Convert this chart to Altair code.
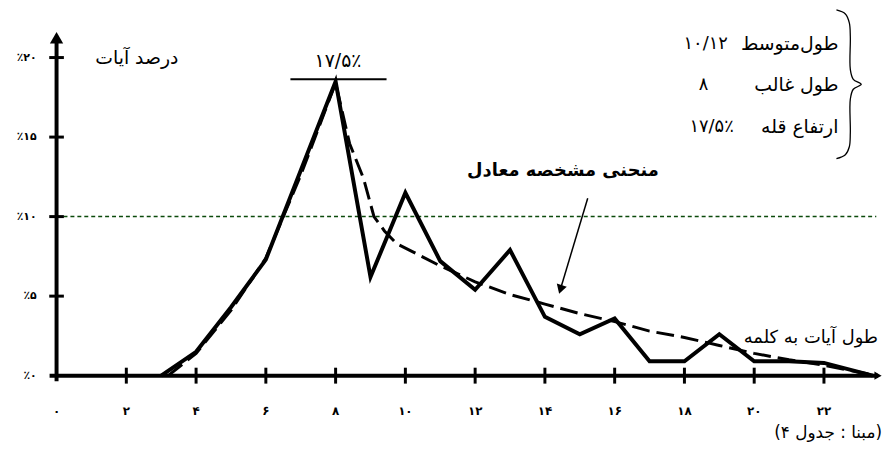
import altair as alt
import pandas as pd

# ---------------- data ----------------
x_ticks = [0, 2, 4, 6, 8, 10, 12, 14, 16, 18, 20, 22]
x_tick_labels = ["۰", "۲", "۴", "۶", "۸", "۱۰", "۱۲", "۱۴", "۱۶", "۱۸", "۲۰", "۲۲"]
y_ticks = [0, 5, 10, 15, 20]
y_tick_labels = ["٪۰", "٪۵", "٪۱۰", "٪۱۵", "٪۲۰"]

# observed distribution (solid line)
solid_x = [3, 4, 5, 6, 7, 8, 9, 10, 11, 12, 13, 14, 15, 16, 17, 18, 19, 20, 21, 22, 23.4]
solid_y = [0, 1.5, 4.3, 7.3, 12.9, 18.5, 6.2, 11.5, 7.2, 5.4, 7.9, 3.7, 2.6, 3.6,
           0.9, 0.9, 2.6, 0.9, 0.9, 0.8, 0]

# equivalent characteristic curve (dashed line)
curve_x = [3.2, 4, 5, 6, 7, 8, 8.4, 8.8, 9.1, 9.4, 9.75, 10.2, 11, 12, 13, 14, 15,
           16, 17, 18, 19, 20, 21, 22, 23.4]
curve_y = [0, 1.4, 4.1, 7.4, 12.6, 18.4, 14.6, 12.4, 10.0, 9.1, 8.3, 7.8, 6.9, 5.9,
           5.1, 4.5, 3.9, 3.4, 2.8, 2.4, 1.9, 1.4, 1.0, 0.65, 0.05]

ref_level = 10
peak_text = "۱۷/۵٪"
y_title = "درصد آیات"
x_title = "طول آیات به کلمه"
curve_title = "منحنی مشخصه معادل"
source_text = "(مبنا : جدول ۴)"
legend_labels = ["طول\u200cمتوسط", "طول غالب", "ارتفاع قله"]
legend_values = ["۱۰/۱۲", "۸", "۱۷/۵٪"]

# ---------------- layout ----------------
W, H = 885, 440
KX, KY = 35.2, 16.05          # px per unit
X0_PX, Y0_PX = 49, 369        # origin inside the view
XMIN = -X0_PX / KX
XMAX = XMIN + W / KX
YMAX = Y0_PX / KY
YMIN = YMAX - H / KY

FONT = "DejaVu Sans"
xs = alt.Scale(domain=[XMIN, XMAX], nice=False, zero=False)
ys = alt.Scale(domain=[YMIN, YMAX], nice=False, zero=False)
X = alt.X("x:Q", scale=xs, axis=None)
Y = alt.Y("y:Q", scale=ys, axis=None)


def px2x(p):
    return (p - 57) / KX


def py2y(p):
    return (377 - p) / KY


def text_layer(x, y, txt, **kw):
    df = pd.DataFrame({"x": x, "y": y, "t": txt})
    base = dict(font=FONT, baseline="middle", color="black")
    base.update(kw)
    return alt.Chart(df).mark_text(**base).encode(x=X, y=Y, text="t:N")


# axes
axes_df = pd.DataFrame({"x": [-0.2, 0], "y": [0, -0.35], "x2": [23.55, 0], "y2": [0, 21.0]})
axes = alt.Chart(axes_df).mark_rule(color="black", strokeWidth=4).encode(
    x=X, y=Y, x2="x2:Q", y2="y2:Q")

arrow_df = pd.DataFrame({"x": [0, 23.55], "y": [21.25, 0], "s": ["triangle-up", "triangle-right"],
                         "z": [180, 70]})
arrows = alt.Chart(arrow_df).mark_point(filled=True, color="black", opacity=1).encode(
    x=X, y=Y,
    shape=alt.Shape("s:N", scale=None, legend=None),
    size=alt.Size("z:Q", scale=None, legend=None))

xt_df = pd.DataFrame({"x": x_ticks[1:], "y": [-0.5] * (len(x_ticks) - 1),
                      "y2": [0.5] * (len(x_ticks) - 1)})
xt = alt.Chart(xt_df).mark_rule(color="black", strokeWidth=3).encode(x=X, y=Y, y2="y2:Q")

yt_df = pd.DataFrame({"y": y_ticks[1:], "x": [-0.21] * (len(y_ticks) - 1),
                      "x2": [0.21] * (len(y_ticks) - 1)})
yt = alt.Chart(yt_df).mark_rule(color="black", strokeWidth=3).encode(x=X, y=Y, x2="x2:Q")

xl = text_layer(x_ticks, [-2.24] * len(x_ticks), x_tick_labels,
                fontSize=12, fontWeight="bold", align="center")
yl = text_layer([-0.57] * len(y_ticks), y_ticks, y_tick_labels,
                fontSize=11, fontWeight="bold", align="right")

# reference dotted line
ref_df = pd.DataFrame({"x": [0], "x2": [23.5], "y": [ref_level]})
ref = alt.Chart(ref_df).mark_rule(color="#0b4a0b", strokeWidth=1.5, strokeDash=[4, 3]).encode(
    x=X, x2="x2:Q", y=Y)

# curves
curve_df = pd.DataFrame({"x": curve_x, "y": curve_y})
curve = alt.Chart(curve_df).mark_line(color="black", strokeWidth=3, strokeDash=[18, 7]).encode(
    x=X, y=Y)

solid_df = pd.DataFrame({"x": solid_x, "y": solid_y})
solid = alt.Chart(solid_df).mark_line(color="black", strokeWidth=4, strokeJoin="miter",
                                       strokeMiterLimit=6).encode(x=X, y=Y)

# peak marker
peak_df = pd.DataFrame({"x": [px2x(293)], "x2": [px2x(390)], "y": [py2y(78)]})
peak_rule = alt.Chart(peak_df).mark_rule(color="black", strokeWidth=2).encode(x=X, x2="x2:Q", y=Y)
peak_lbl = text_layer([px2x(341)], [py2y(60)], [peak_text], fontSize=19, align="center")

# titles / annotations
ytitle = text_layer([px2x(138)], [py2y(56)], [y_title], fontSize=19, align="center")
xtitle = text_layer([px2x(886)], [py2y(339)], [x_title], fontSize=18, align="right")
src = text_layer([px2x(890)], [py2y(435)], [source_text], fontSize=17, align="right")
ctitle = text_layer([px2x(568)], [py2y(171)], [curve_title], fontSize=18, fontWeight="bold",
                    align="center")

# pointer arrow
ptr_df = pd.DataFrame({"x": [px2x(593)], "y": [py2y(198)], "x2": [px2x(566)], "y2": [py2y(288)]})
ptr = alt.Chart(ptr_df).mark_rule(color="black", strokeWidth=1.5).encode(
    x=X, y=Y, x2="x2:Q", y2="y2:Q")
ptr_head = alt.Chart(pd.DataFrame({"x": [px2x(565.5)], "y": [py2y(290)]})).mark_point(
    shape="triangle-down", filled=True, color="black", opacity=1, size=110, angle=17).encode(x=X, y=Y)

# legend box at top right
leg_y = [py2y(42), py2y(84), py2y(126)]
leg_lab = text_layer([px2x(846)] * 3, leg_y, legend_labels, fontSize=19, align="right")
leg_val = text_layer([px2x(712), px2x(710), px2x(718)], leg_y, legend_values,
                     fontSize=18, align="center")

brace_px = [(844, 8), (853, 12), (857, 21), (858, 35), (858, 68), (861, 78), (869, 83),
            (861, 88), (858, 98), (858, 132), (857, 146), (853, 154), (844, 158)]
brace_df = pd.DataFrame({"x": [px2x(a) for a, b in brace_px], "y": [py2y(b) for a, b in brace_px],
                         "i": list(range(len(brace_px)))})
brace = alt.Chart(brace_df).mark_line(color="black", strokeWidth=1.3, interpolate="catmull-rom").encode(
    x=X, y=Y, order="i:Q")

chart = alt.layer(
    ref, curve, solid, axes, arrows, xt, yt, xl, yl, peak_rule, peak_lbl,
    ytitle, xtitle, src, ctitle, ptr, ptr_head, leg_lab, leg_val, brace
).properties(
    width=W, height=H, padding=0, autosize=alt.AutoSizeParams(type="none"),
    background="white"
).configure_view(stroke=None)

chart.save("out.html", embed_options={"renderer": "svg", "actions": False})
